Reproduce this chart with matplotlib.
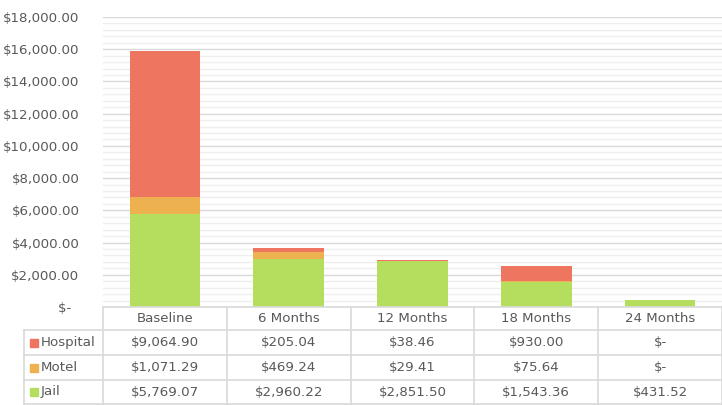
import matplotlib.pyplot as plt
import numpy as np
from matplotlib.ticker import MultipleLocator, FuncFormatter
from matplotlib.patches import Rectangle

categories = ['Baseline', '6 Months', '12 Months', '18 Months', '24 Months']
series = ['Hospital', 'Motel', 'Jail']
jail = [5769.07, 2960.22, 2851.50, 1543.36, 431.52]
motel = [1071.29, 469.24, 29.41, 75.64, 0.0]
hospital = [9064.90, 205.04, 38.46, 930.00, 0.0]
colors = {'Hospital': '#EE7660', 'Motel': '#EEB150', 'Jail': '#B6DE5E'}

txt = '#595959'
grid_major = '#D9D9D9'
grid_minor = '#EEEEEE'
fs = 9.6
plt.rcParams['font.family'] = ['DejaVu Sans']

W, H = 722, 405
fig = plt.figure(figsize=(W / 100, H / 100), dpi=100)
left, right, top, zero = 103, 722, 17, 307
ax = fig.add_axes([left / W, 1 - zero / H, (right - left) / W, (zero - top) / H])

x = np.arange(len(categories))
ax.bar(x, jail, width=0.57, color=colors['Jail'], zorder=3)
ax.bar(x, motel, width=0.57, bottom=jail, color=colors['Motel'], zorder=3)
ax.bar(x, hospital, width=0.57, bottom=np.add(jail, motel), color=colors['Hospital'], zorder=3)

ax.set_xlim(-0.5, len(categories) - 0.5)
ax.set_ylim(0, 18000)
ax.yaxis.set_major_locator(MultipleLocator(2000))
ax.yaxis.set_minor_locator(MultipleLocator(400))
ax.grid(which='major', axis='y', color=grid_major, lw=1, zorder=0)
ax.grid(which='minor', axis='y', color=grid_minor, lw=1, zorder=0)
ax.yaxis.set_major_formatter(FuncFormatter(lambda v, p: '$-  ' if v == 0 else f'${v:,.2f}'))
ax.tick_params(axis='y', which='both', length=0, labelsize=fs, labelcolor=txt, pad=17)
ax.set_xticks([])
for s in ax.spines.values():
    s.set_visible(False)

# data table below the plot
row_h = [307, 330, 355, 380, 404]
label_left = 24
col_w = (right - left) / len(categories)


def fx(px):
    return px / W


def fy(py):
    return 1 - py / H


# horizontal lines
fig.add_artist(plt.Line2D([fx(left), fx(right)], [fy(row_h[0])] * 2, color=grid_major, lw=1.2))
for yy in row_h[1:]:
    fig.add_artist(plt.Line2D([fx(label_left), fx(right)], [fy(yy)] * 2, color=grid_major, lw=1.2))
# vertical lines
fig.add_artist(plt.Line2D([fx(label_left)] * 2, [fy(row_h[1]), fy(row_h[-1])], color=grid_major, lw=1.2))
for i in range(len(categories) + 1):
    xx = left + i * col_w
    fig.add_artist(plt.Line2D([fx(xx)] * 2, [fy(row_h[0]), fy(row_h[-1])], color=grid_major, lw=1.2))

for i, c in enumerate(categories):
    cx = left + (i + 0.5) * col_w
    fig.text(fx(cx), fy((row_h[0] + row_h[1]) / 2), c, ha='center', va='center',
             fontsize=fs, color=txt)

values = {'Hospital': hospital, 'Motel': motel, 'Jail': jail}
for r, name in enumerate(series):
    yc = (row_h[r + 1] + row_h[r + 2]) / 2
    fig.add_artist(Rectangle((fx(30), fy(yc + 4)), 8 / W, 8 / H, color=colors[name]))
    fig.text(fx(41), fy(yc), name, ha='left', va='center', fontsize=fs, color=txt)
    for i, v in enumerate(values[name]):
        cx = left + (i + 0.5) * col_w
        s = '$-' if v == 0 else f'${v:,.2f}'
        fig.text(fx(cx), fy(yc), s, ha='center', va='center', fontsize=fs, color=txt)

fig.savefig('out.png', dpi=100)
